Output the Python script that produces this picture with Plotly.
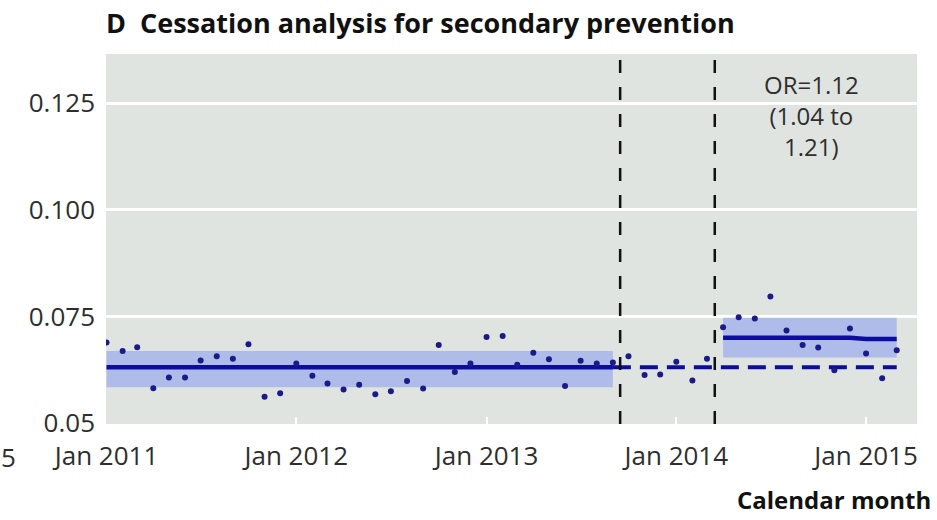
import pandas as pd
import plotly.graph_objects as go

# Monthly cessation proportion, Jan 2011 - Mar 2015
months = pd.date_range("2011-01-01", periods=51, freq="MS")
rate = [
    0.0689, 0.0669, 0.0678, 0.0582, 0.0607, 0.0607, 0.0647, 0.0657, 0.0651, 0.0685,
    0.0562, 0.0570, 0.0640, 0.0611, 0.0593, 0.0579, 0.0590, 0.0568, 0.0575, 0.0599,
    0.0581, 0.0683, 0.0620, 0.0640, 0.0702, 0.0704, 0.0637, 0.0665, 0.0650, 0.0587,
    0.0646, 0.0640, 0.0642, 0.0657, 0.0613, 0.0614, 0.0644, 0.0600, 0.0651, 0.0725,
    0.0748, 0.0745, 0.0797, 0.0717, 0.0683, 0.0677, 0.0624, 0.0722, 0.0663, 0.0605,
    0.0671,
]

# Pre-intervention fit (Jan 2011 - Sep 2013) with its confidence band
pre_n = 33
pre_fit = 0.0631
pre_lo, pre_hi = 0.0584, 0.0669

# Counterfactual projection of the pre-period level (Sep 2013 - Mar 2015)
proj_start = 32

# Post-intervention fit (Apr 2014 - Mar 2015) with its confidence band
post_start = 39
post_fit = [0.0700, 0.0700, 0.0700, 0.0700, 0.0700, 0.0700, 0.0700, 0.0700,
            0.0700, 0.0697, 0.0697, 0.0697]
post_lo, post_hi = 0.0654, 0.0747

# Interruption boundaries
breaks = ["2013-09-15", "2014-03-16"]

y_ticks = [0.05, 0.075, 0.100, 0.125]
y_tick_text = ["0.05", "0.075", "0.100", "0.125"]
x_ticks = ["2011-01-01", "2012-01-01", "2013-01-01", "2014-01-01", "2015-01-01"]
x_tick_text = ["Jan 2011", "Jan 2012", "Jan 2013", "Jan 2014", "Jan 2015"]

LINE = "#0c0ca0"
DOT = "#1b1b88"
BAND = "rgba(155,170,235,0.72)"
TXT = "#2e2e2e"
FONT = "Open Sans"

fig = go.Figure()

pre_x = list(months[:pre_n])
fig.add_trace(go.Scatter(
    x=pre_x + pre_x[::-1], y=[pre_hi] * pre_n + [pre_lo] * pre_n,
    fill="toself", fillcolor=BAND, line=dict(width=0), mode="lines",
    hoverinfo="skip", showlegend=False))

post_x = list(months[post_start:])
n_post = len(post_x)
fig.add_trace(go.Scatter(
    x=post_x + post_x[::-1], y=[post_hi] * n_post + [post_lo] * n_post,
    fill="toself", fillcolor=BAND, line=dict(width=0), mode="lines",
    hoverinfo="skip", showlegend=False))

proj_x = list(months[proj_start:])
fig.add_trace(go.Scatter(
    x=proj_x, y=[pre_fit] * len(proj_x), mode="lines",
    line=dict(color=LINE, width=4, dash="18px,9px"), showlegend=False))

fig.add_trace(go.Scatter(
    x=pre_x, y=[pre_fit] * pre_n, mode="lines",
    line=dict(color=LINE, width=4.5), showlegend=False))

fig.add_trace(go.Scatter(
    x=post_x, y=post_fit, mode="lines",
    line=dict(color=LINE, width=4.5), showlegend=False))

fig.add_trace(go.Scatter(
    x=months, y=rate, mode="markers",
    marker=dict(color=DOT, size=6), showlegend=False))

for b in breaks:
    fig.add_shape(type="line", xref="x", yref="paper", x0=b, x1=b, y0=0, y1=1,
                  line=dict(color="#111111", width=2.5, dash="13px,14px"),
                  layer="above")

fig.add_annotation(
    x="2014-09-19", y=0.1222, xref="x", yref="y",
    text="OR=1.12<br>(1.04 to<br>1.21)", showarrow=False, align="center",
    font=dict(family=FONT, size=24, color=TXT))

fig.add_annotation(
    x=1.0197, y=-0.205, xref="paper", yref="paper", xanchor="right",
    yanchor="middle", text="<b>Calendar month</b>", showarrow=False,
    font=dict(family=FONT, size=24, color="#111111"))

fig.add_annotation(
    x=-0.108, y=-0.09, xref="paper", yref="paper", xanchor="right",
    yanchor="middle", text="5", showarrow=False,
    font=dict(family=FONT, size=26, color=TXT))

fig.update_layout(
    width=937, height=520,
    margin=dict(l=106, r=20, t=54, b=96),
    paper_bgcolor="white", plot_bgcolor="#e0e4e1",
    title=dict(text="<b>D  Cessation analysis for secondary prevention</b>",
               x=106 / 937, xanchor="left", xref="container",
               y=1 - 24 / 520, yanchor="middle", yref="container",
               font=dict(family=FONT, size=27, color="#111111")),
    xaxis=dict(type="date", range=["2010-12-31", "2015-04-09"],
               tickvals=x_ticks, ticktext=x_tick_text,
               showgrid=False, zeroline=False, showline=False,
               ticks="inside", ticklen=7, tickwidth=2, tickcolor="white",
               ticklabelstandoff=14,
               tickfont=dict(family=FONT, size=26, color=TXT)),
    yaxis=dict(range=[0.0498, 0.1365], tickvals=y_ticks, ticktext=y_tick_text,
               showgrid=True, gridcolor="white", gridwidth=3,
               zeroline=False, showline=False, ticks="",
               ticklabelstandoff=10,
               tickfont=dict(family=FONT, size=26, color=TXT)),
)

fig.write_html("out.html")
